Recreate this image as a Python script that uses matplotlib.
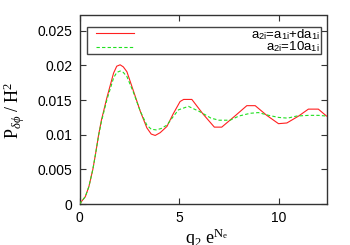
import matplotlib
matplotlib.use("Agg")
import matplotlib.pyplot as plt
from matplotlib.patches import Rectangle
from matplotlib.lines import Line2D

# ---- data ----
x_red = [0, 0.29, 0.47, 0.67, 0.81, 0.96, 1.1, 1.37, 1.71, 1.87, 2.04, 2.2, 2.38, 2.71,
         3.05, 3.38, 3.6, 3.8, 4.05, 4.39, 4.7, 5.05, 5.23, 5.64, 6.2, 6.77, 7.14, 7.8,
         8.4, 8.82, 9.4, 9.99, 10.41, 11.0, 11.49, 11.99, 12.4]
y_red = [0, 0.00105, 0.0025, 0.0050, 0.0073, 0.0100, 0.0121, 0.0153, 0.0189, 0.0199,
         0.0201, 0.0198, 0.0191, 0.0163, 0.0134, 0.0110, 0.0101, 0.0099, 0.0103, 0.0112,
         0.0130, 0.0148, 0.0151, 0.0151, 0.0130, 0.0111, 0.0111, 0.0127, 0.0142, 0.0142,
         0.0128, 0.0116, 0.0117, 0.0127, 0.0137, 0.0137, 0.0127]
x_green = [0, 0.29, 0.47, 0.67, 0.81, 0.96, 1.1, 1.37, 1.71, 1.87, 2.04, 2.2, 2.38, 2.71,
           3.05, 3.38, 3.6, 3.85, 4.1, 4.39, 4.7, 4.97, 5.47, 6.06, 6.6, 7.0, 7.56, 8.0,
           8.57, 8.98, 9.5, 10.0, 10.45, 10.9, 11.5, 12.0, 12.4]
y_green = [0, 0.00105, 0.0025, 0.0050, 0.0073, 0.0099, 0.0119, 0.0150, 0.0182, 0.0190,
           0.0192, 0.0190, 0.0184, 0.0161, 0.0134, 0.0114, 0.0108, 0.0107, 0.0109, 0.0114,
           0.0126, 0.0136, 0.0141, 0.0133, 0.0124, 0.0121, 0.0121, 0.0127, 0.0131, 0.0132,
           0.0128, 0.0125, 0.0124, 0.0127, 0.0128, 0.0128, 0.0127]
legend_labels = [r"a$_{\mathregular{2i}}$=a$_{\mathregular{1i}}$+da$_{\mathregular{1i}}$",
                 r"a$_{\mathregular{2i}}$=10a$_{\mathregular{1i}}$"]
x_ticks = [0, 5, 10]
y_ticks = [0, 0.005, 0.01, 0.015, 0.02, 0.025]
y_tick_labels = ["0", "0.005", "0.01", "0.015", "0.02", "0.025"]

plt.rcParams['font.family'] = ['Liberation Sans', 'DejaVu Sans']
plt.rcParams['mathtext.fontset'] = 'custom'
plt.rcParams['mathtext.rm'] = 'Liberation Serif'
plt.rcParams['mathtext.it'] = 'Liberation Serif:italic'

fig = plt.figure(figsize=(3.5, 2.45), dpi=100)
ax = fig.add_axes([79.5/350, 1-204/245, (326.5-79.5)/350, (204-15.5)/245])

ax.plot(x_red, y_red, color='#ff2020', lw=0.8, zorder=3)
ax.plot(x_green, y_green, color='#20e020', lw=0.8, ls=(0, (3, 2)), zorder=3)

ax.set_xlim(0, 12.4)
ax.set_ylim(0, 0.02722)
ax.set_xticks(x_ticks)
ax.set_xticklabels([str(t) for t in x_ticks])
ax.set_yticks(y_ticks)
ax.set_yticklabels(y_tick_labels)
ax.tick_params(direction='in', length=4, width=0.8, labelsize=10, top=True, right=True,
               color='#333333', pad=5)
for s in ax.spines.values():
    s.set_linewidth(1.0)
    s.set_color('#333333')

# legend box
ax.add_patch(Rectangle((87/350, 1-54/245), (321-87)/350, (54-26.7)/245,
                       transform=fig.transFigure, fill=False, ec='#444444', lw=1.0,
                       zorder=4, figure=fig))
fig.add_artist(Line2D([96/350, 134/350], [1-33/245, 1-33/245], color='#ff2020', lw=0.8))
fig.add_artist(Line2D([96/350, 134/350], [1-47/245, 1-47/245], color='#20e020', lw=0.8,
                      ls=(0, (3, 2))))
fig.text(320/350, 1-38/245, legend_labels[0], ha='right', va='baseline', fontsize=9.5)
fig.text(320/350, 1-50.5/245, legend_labels[1], ha='right', va='baseline', fontsize=9.5)

fig.text(14/350, 1-110/245, r"$\mathrm{P}_{\delta\phi}\ /\ \mathrm{H}^{2}$", rotation=90,
         ha='center', va='center', fontsize=13)
fig.text(207/350, 1-244/245, r"$\mathrm{q}_{2}\ \mathrm{e}^{\mathrm{N}_{\mathrm{e}}}$",
         ha='center', va='baseline', fontsize=13)

fig.savefig("out.png", dpi=100)
